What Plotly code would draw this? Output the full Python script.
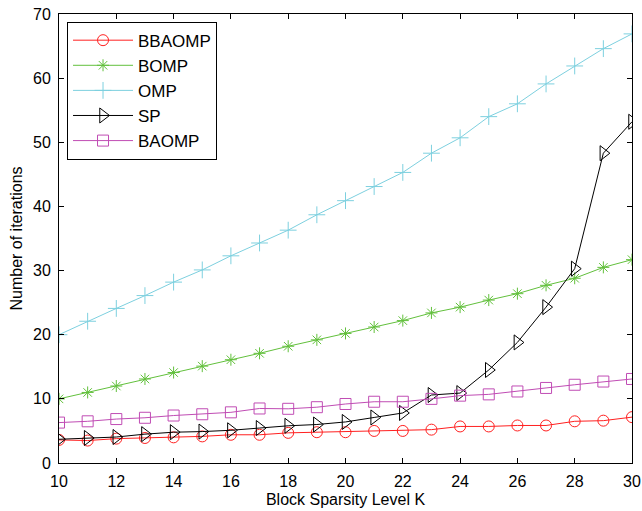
import plotly.graph_objects as go

K = list(range(10, 31))
bbaomp = [3.6, 3.5, 3.8, 3.9, 4.0, 4.15, 4.4, 4.4, 4.7, 4.8, 4.8, 5.0, 5.0, 5.2, 5.7, 5.7, 5.85, 5.85, 6.5, 6.6, 7.15]
bomp = [10.0, 11.0, 12.0, 13.1, 14.1, 15.1, 16.1, 17.1, 18.2, 19.2, 20.2, 21.2, 22.2, 23.4, 24.3, 25.4, 26.4, 27.7, 28.8, 30.5, 31.7]
omp = [20.0, 22.1, 24.1, 26.1, 28.2, 30.1, 32.3, 34.3, 36.3, 38.7, 40.9, 43.1, 45.3, 48.3, 50.7, 54.0, 56.0, 59.1, 61.9, 64.6, 66.9]
sp = [3.7, 3.9, 4.05, 4.5, 4.8, 4.9, 5.1, 5.45, 5.8, 6.0, 6.4, 7.1, 7.8, 10.6, 10.9, 14.5, 18.8, 24.3, 30.3, 48.3, 53.2]
baomp = [6.3, 6.5, 6.85, 7.05, 7.4, 7.6, 7.9, 8.5, 8.45, 8.7, 9.2, 9.55, 9.55, 10.0, 10.5, 10.7, 11.15, 11.7, 12.2, 12.7, 13.1]

series = [
    ("BBAOMP", bbaomp, "#ff2020", "circle-open", 11),
    ("BOMP", bomp, "#62c03c", "asterisk-open", 10),
    ("OMP", omp, "#7dd0df", "cross-thin-open", 12),
    ("SP", sp, "#000000", "triangle-right-open", 13),
    ("BAOMP", baomp, "#c04cb4", "square-open", 11),
]

FONT = "Liberation Sans, Arial, sans-serif"

fig = go.Figure()
for name, vals, col, sym, sz in series:
    fig.add_trace(go.Scatter(
        x=K, y=vals, name=name, mode="lines+markers",
        line=dict(color=col, width=1),
        marker=dict(symbol=sym, size=sz, color=col, line=dict(color=col, width=1)),
    ))

axis_common = dict(
    showgrid=False, zeroline=False, showline=True, linecolor="black", linewidth=1,
    mirror="allticks", ticks="inside", ticklen=5, tickcolor="black",
    ticklabelstandoff=4, automargin=False,
    tickfont=dict(family=FONT, size=16, color="black"),
)
fig.update_layout(
    width=642, height=511,
    margin=dict(l=59, r=10, t=14, b=48, autoexpand=False),
    paper_bgcolor="white", plot_bgcolor="white",
    font=dict(family=FONT, size=16, color="black"),
    xaxis=dict(range=[10, 30], dtick=2, tick0=10,
               title=dict(text="Block Sparsity Level K", standoff=4, font=dict(size=16)),
               **axis_common),
    yaxis=dict(range=[0, 70], dtick=10, tick0=0,
               title=dict(text="Number of iterations", standoff=6, font=dict(size=16)),
               **axis_common),
    legend=dict(x=0.014, y=0.983, xanchor="left", yanchor="top",
                bgcolor="white", bordercolor="black", borderwidth=1,
                font=dict(family=FONT, size=17), itemwidth=60, tracegroupgap=0,
                entrywidth=158),
    showlegend=True,
)
fig.write_html("out.html", config={"displayModeBar": False},
               post_script="document.body.style.margin='0';document.body.style.overflow='hidden';")
